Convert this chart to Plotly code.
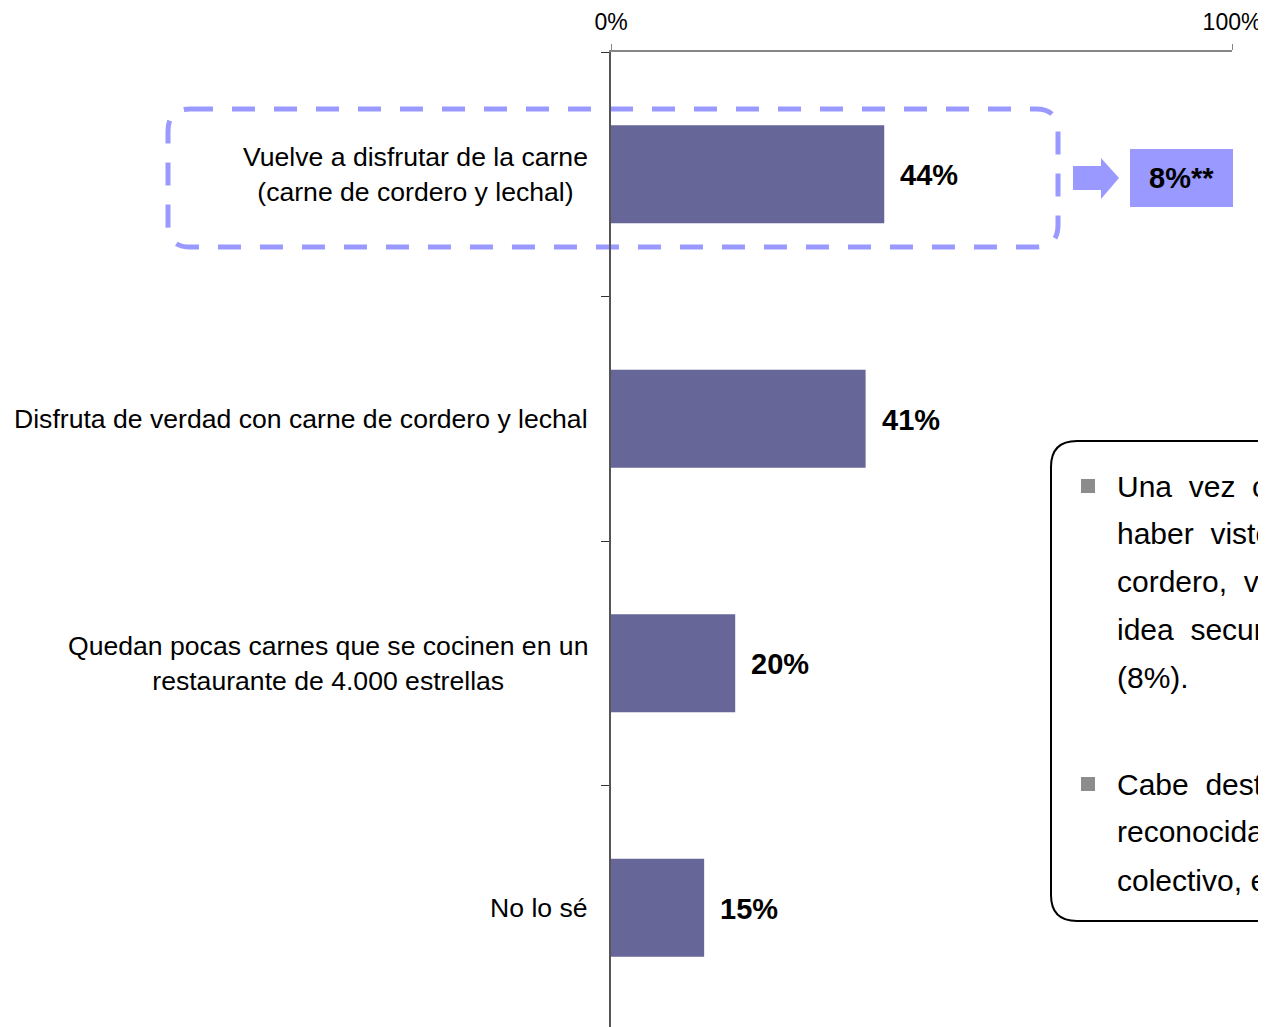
import plotly.graph_objects as go

# datos
categorias = [
    "Vuelve a disfrutar de la carne<br>(carne de cordero y lechal)",
    "Disfruta de verdad con carne de cordero y lechal",
    "Quedan pocas carnes que se cocinen en un<br>restaurante de 4.000 estrellas",
    "No lo sé",
]
valores = [44, 41, 20, 15]
eje_x_ticks = [0, 100]
eje_x_textos = ["0%", "100%"]
destacado = "8%**"
texto_lineas = [
    "Una\u00a0\u00a0vez\u00a0\u00a0conocido",
    "haber\u00a0\u00a0visto\u00a0\u00a0el",
    "cordero,\u00a0\u00a0vuelven",
    "idea\u00a0\u00a0secundaria",
    "(8%).",
    "Cabe\u00a0\u00a0destacar",
    "reconocidas",
    "colectivo,\u00a0en",
]

BARRA = "#666699"
LILA = "#9999FF"
FUENTE = "Arial, Liberation Sans, sans-serif"

# el body de la pagina deja 8px de margen: se compensa
OFF = 8
W, H = 1266 - OFF, 1027 - OFF
PL, PW, PT = 611 - OFF, 621, 52 - OFF
PH = H - PT
BANDA = 244.5  # alto de cada categoria en pixeles


def px(x):
    # x en pixeles de la ventana -> paper
    return (x - OFF - PL) / PW


def py(y):
    return (H - (y - OFF)) / PH


def caja_redondeada(x0, y0, x1, y1, r):
    return (
        f"M {px(x0 + r)} {py(y0)} L {px(x1 - r)} {py(y0)} "
        f"Q {px(x1)} {py(y0)} {px(x1)} {py(y0 + r)} "
        f"L {px(x1)} {py(y1 - r)} "
        f"Q {px(x1)} {py(y1)} {px(x1 - r)} {py(y1)} "
        f"L {px(x0 + r)} {py(y1)} "
        f"Q {px(x0)} {py(y1)} {px(x0)} {py(y1 - r)} "
        f"L {px(x0)} {py(y0 + r)} "
        f"Q {px(x0)} {py(y0)} {px(x0 + r)} {py(y0)} Z"
    )


fig = go.Figure()

fig.add_trace(go.Bar(
    x=valores,
    y=categorias,
    orientation="h",
    marker_color=BARRA,
    marker_line_width=0,
    hoverinfo="skip",
))

# etiquetas de categoria
for cat in categorias:
    fig.add_annotation(
        x=0, xref="paper", y=cat, yref="y",
        text=cat, showarrow=False,
        xanchor="right", yanchor="middle", align="center",
        xshift=-21,
        font=dict(family=FUENTE, size=26.6, color="black"),
    )

# etiquetas de valor
for cat, v in zip(categorias, valores):
    fig.add_annotation(
        x=v, xref="x", y=cat, yref="y",
        text=f"<b>{v}%</b>", showarrow=False,
        xanchor="left", yanchor="middle", xshift=14, yshift=-1,
        font=dict(family=FUENTE, size=29, color="black"),
    )

# caja discontinua
fig.add_shape(
    type="path", xref="paper", yref="paper",
    path=caja_redondeada(168, 109, 1058, 247, 22),
    line=dict(color=LILA, width=5, dash="23px,19px"),
    layer="below",
)

# flecha
flecha = [(1073, 166), (1101, 166), (1101, 158), (1119, 178),
          (1101, 199), (1101, 190), (1073, 190)]
fig.add_shape(
    type="path", xref="paper", yref="paper",
    path="M " + " L ".join(f"{px(a)} {py(b)}" for a, b in flecha) + " Z",
    fillcolor=LILA, line=dict(width=0),
)

# caja 8%
fig.add_shape(
    type="rect", xref="paper", yref="paper",
    x0=px(1130), x1=px(1233), y0=py(149), y1=py(207),
    fillcolor=LILA, line=dict(width=0),
)
fig.add_annotation(
    x=px(1181), y=py(178), xref="paper", yref="paper",
    text=f"<b>{destacado}</b>", showarrow=False,
    xanchor="center", yanchor="middle",
    font=dict(family=FUENTE, size=29, color="black"),
)

# cuadro de texto derecho
fig.add_shape(
    type="path", xref="paper", yref="paper",
    path=caja_redondeada(1051, 441, 1320, 921, 26),
    line=dict(color="black", width=2),
)
lineas_y = [486, 533, 581, 629, 677, 784, 831, 880]
for t, yy in zip(texto_lineas, lineas_y):
    fig.add_annotation(
        x=px(1115), y=py(yy), xref="paper", yref="paper",
        text=t, showarrow=False,
        xanchor="left", yanchor="middle",
        font=dict(family=FUENTE, size=30, color="black"),
    )
for yy in [486, 784]:
    fig.add_shape(
        type="rect", xref="paper", yref="paper",
        x0=px(1081), x1=px(1095), y0=py(yy - 7), y1=py(yy + 7),
        fillcolor="#8C8C8C", line=dict(width=0),
    )

fig.update_xaxes(
    side="top", range=[0, 100],
    tickvals=eje_x_ticks, ticktext=eje_x_textos,
    ticks="outside", ticklen=6, tickcolor="#868686",
    ticklabelstandoff=5,
    showline=True, linecolor="#868686", linewidth=1.5,
    showgrid=False, zeroline=False,
    tickfont=dict(family=FUENTE, size=23, color="black"),
)
fig.update_yaxes(
    range=[PH / BANDA - 0.5, -0.5],
    showticklabels=False,
    ticks="outside", tickson="boundaries", ticklen=8, tickcolor="#333333",
    showline=True, linecolor="#555555", linewidth=1.5,
    showgrid=False, zeroline=False,
)

fig.update_layout(
    width=W, height=H,
    margin=dict(l=PL, r=W - PL - PW, t=PT, b=0, pad=0),
    bargap=0.6,
    showlegend=False,
    plot_bgcolor="rgba(0,0,0,0)",
    paper_bgcolor="white",
    font=dict(family=FUENTE, color="black"),
)

fig.write_html("out.html")
